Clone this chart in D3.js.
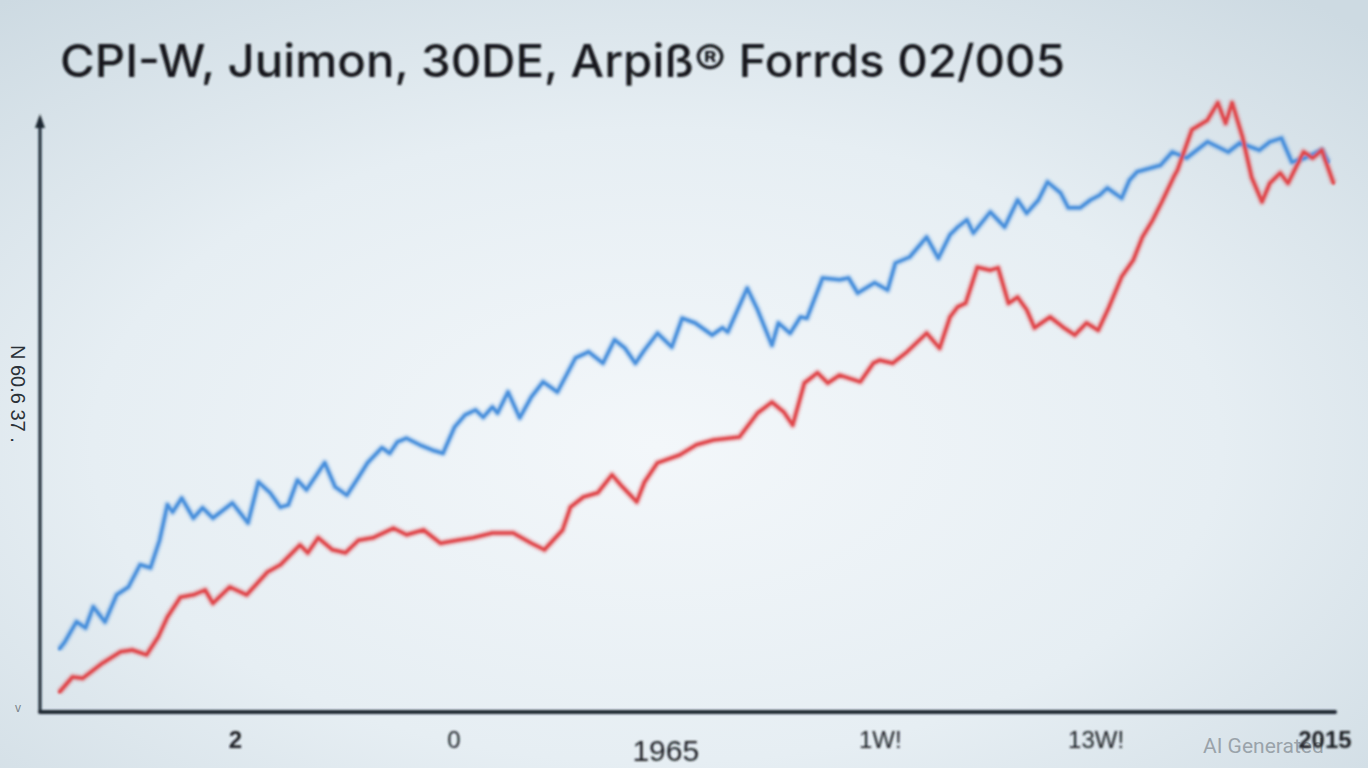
<!DOCTYPE html>
<html>
<head>
<meta charset="utf-8">
<script src="https://cdn.jsdelivr.net/npm/d3@7"></script>
<style>
  html, body { margin: 0; padding: 0; overflow: hidden; }
  body { width: 1368px; height: 768px; }
</style>
</head>
<body>
<div id="vis"></div>
<script>
// Values (x: position along the axis 0..100, y: index value)
var blueX = [1.5,1.9,2.8,3.5,4.1,5.0,5.9,6.8,7.7,8.5,9.2,9.8,10.2,10.9,11.8,12.5,13.3,14.8,16.0,16.8,17.7,18.5,19.1,19.8,20.5,21.9,22.7,23.6,24.5,
  25.2,26.3,26.9,27.5,28.2,29.2,30.2,31.0,31.9,32.7,33.5,34.1,34.8,35.2,36.0,36.9,37.8,38.7,39.8,41.2,42.2,43.3,44.2,45.0,45.8,46.5,47.5,
  48.6,49.4,50.4,51.7,52.5,52.9,54.4,55.2,56.3,56.8,57.7,58.5,59.0,60.2,61.5,62.2,62.9,64.2,65.2,65.8,66.9,68.2,69.1,70.0,
  70.6,71.3,71.8,73.1,74.2,75.2,75.9,76.8,77.5,78.5,79.1,80.0,80.8,81.5,82.1,83.2,83.8,84.4,86.2,87.1,88.2,89.8,91.4,92.3,93.8,94.6,95.5,96.3,97.3,98.6,99.1];
var blueY = [10.2,11.3,14.7,13.7,17.2,14.7,19.2,20.5,24.2,23.7,28.3,34.2,33.0,35.3,32.0,33.7,32.0,34.5,31.2,38.0,36.2,33.8,34.2,38.3,36.7,41.2,37.2,35.8,38.8,
  41.2,43.7,42.8,44.7,45.3,44.2,43.3,42.8,47.2,49.2,50.0,48.8,50.5,49.5,53.0,48.7,52.2,54.7,53.0,58.7,59.7,57.8,61.7,60.3,57.8,60.0,62.8,
  60.5,65.3,64.5,62.5,63.7,63.0,70.3,66.7,60.8,64.5,62.8,65.5,65.3,72.0,71.7,72.0,69.5,71.2,70.0,74.5,75.5,78.8,75.3,79.2,
  80.5,81.7,79.5,83.0,80.5,85.0,82.8,85.0,88.0,86.2,83.7,83.7,85.0,85.8,87.0,85.3,88.3,89.7,90.8,93.0,92.0,94.7,93.0,94.5,93.3,94.7,95.3,91.3,92.0,93.3,91.3];

var redX = [1.5,2.5,3.3,4.8,6.2,7.1,8.2,9.1,9.8,10.8,11.8,12.7,13.3,14.6,15.9,17.5,18.5,20.0,20.6,21.4,22.5,23.5,24.5,
  25.6,27.2,28.2,29.5,30.8,32.1,33.3,34.8,36.4,37.8,38.8,40.2,40.8,41.8,42.9,44.0,44.8,45.9,46.5,47.5,49.2,50.5,
  51.8,53.8,55.2,56.3,57.2,57.9,58.8,59.8,60.6,61.5,63.1,64.1,64.6,65.6,66.7,68.2,69.2,70.0,70.6,
  71.2,72.1,73.1,73.7,74.5,75.2,75.9,76.5,77.7,78.7,79.6,80.5,81.4,82.2,83.2,84.1,84.8,85.6,86.3,87.2,87.5,
  88.6,89.8,90.6,91.2,91.7,92.5,93.2,94.0,94.6,95.4,96.0,97.2,97.9,98.6,99.5];
var redY = [3.0,5.5,5.3,7.8,9.7,10.0,9.2,12.2,15.5,18.8,19.2,20.0,17.8,20.5,19.2,23.0,24.2,27.5,26.2,28.7,26.7,26.2,28.3,
  28.7,30.3,29.2,30.0,27.8,28.3,28.7,29.5,29.5,27.8,26.7,30.0,33.8,35.5,36.2,39.2,37.2,34.7,38.0,41.2,42.5,44.2,
  45.0,45.5,49.5,51.3,49.7,47.5,54.5,56.2,54.5,55.8,54.7,57.8,58.3,57.8,59.7,62.8,60.3,65.5,67.2,
  67.8,73.8,73.3,73.7,67.8,68.8,66.7,63.7,65.5,63.8,62.5,64.5,63.3,67.0,72.2,75.0,78.8,81.7,84.7,88.8,90.0,
  96.7,98.3,101.2,97.8,101.2,95.5,88.8,84.7,87.8,89.5,87.8,93.0,92.0,93.3,87.8];

var tickPos = [15, 31.8, 48.1, 64.6, 81.2, 98.8];
var tickLabels = ['2', '0', '1965', '1W!', '13W!', '2015'];

var titleText = 'CPI-W, Juimon, 30DE, Arpi\u00df\u00ae Forrds 02/005';
var yLabelText = 'N 60.6 37 .';

var width = 1368;
var height = 768;

var svg = d3.select('#vis').append('svg')
  .attr('width', width)
  .attr('height', height);

var defs = svg.append('defs');

// soft background
var bg = defs.append('radialGradient')
  .attr('id', 'bg')
  .attr('cx', '48%').attr('cy', '58%').attr('r', '75%');
bg.append('stop').attr('offset', '0%').attr('stop-color', '#f3f7fa');
bg.append('stop').attr('offset', '55%').attr('stop-color', '#e6eef3');
bg.append('stop').attr('offset', '100%').attr('stop-color', '#cddae2');

var soft = defs.append('filter').attr('id', 'soft')
  .attr('x', '-5%').attr('y', '-5%').attr('width', '110%').attr('height', '110%');
soft.append('feGaussianBlur').attr('stdDeviation', 0.9);

svg.append('rect')
  .attr('width', width)
  .attr('height', height)
  .attr('fill', 'url(#bg)');

var x = d3.scaleLinear().domain([0, 100]).range([40, 1340]);
var y = d3.scaleLinear().domain([0, 105]).range([710, 80]);

// title
svg.append('text')
  .attr('x', 60)
  .attr('y', 77)
  .attr('textLength', 1005)
  .attr('lengthAdjust', 'spacingAndGlyphs')
  .style('font-family', 'Inter, "DejaVu Sans", sans-serif')
  .style('font-size', '45px')
  .style('font-weight', 500)
  .style('fill', '#14181c')
  .style('filter', 'url(#soft)')
  .text(titleText);

// watermark
svg.append('text')
  .attr('x', 1203)
  .attr('y', 753)
  .style('font-family', 'Roboto, sans-serif')
  .style('font-size', '21px')
  .style('fill', '#9aa3aa')
  .text('AI Generated');

// lines
var line = d3.line()
  .x(function (d) { return x(d[0]); })
  .y(function (d) { return y(d[1]); });

var series = [
  { name: 'blue', color: '#4a90dc', pts: d3.zip(blueX, blueY) },
  { name: 'red', color: '#e0474b', pts: d3.zip(redX, redY) }
];

var g = svg.append('g').style('filter', 'url(#soft)');

g.selectAll('.halo')
  .data(series)
  .enter().append('path')
  .attr('class', 'halo')
  .attr('d', function (d) { return line(d.pts); })
  .attr('fill', 'none')
  .attr('stroke', function (d) { return d.color; })
  .attr('stroke-opacity', 0.25)
  .attr('stroke-width', 8)
  .attr('stroke-linejoin', 'round');

g.selectAll('.series')
  .data(series)
  .enter().append('path')
  .attr('class', 'series')
  .attr('d', function (d) { return line(d.pts); })
  .attr('fill', 'none')
  .attr('stroke', function (d) { return d.color; })
  .attr('stroke-width', 3.5)
  .attr('stroke-linejoin', 'round')
  .attr('stroke-linecap', 'round');

// axes lines
var ax = svg.append('g').style('filter', 'url(#soft)');
ax.append('line')
  .attr('x1', 40).attr('y1', 118)
  .attr('x2', 40).attr('y2', 712)
  .attr('stroke', '#1c2630')
  .attr('stroke-width', 3);
ax.append('path')
  .attr('d', 'M35,128 L40,114 L45,128 Z')
  .attr('fill', '#1c2630');
ax.append('line')
  .attr('x1', 40).attr('y1', 712)
  .attr('x2', 1335).attr('y2', 712)
  .attr('stroke', '#1c2630')
  .attr('stroke-width', 4)
  .attr('stroke-linecap', 'round');

// x tick labels
var xAxis = d3.axisBottom(x)
  .tickValues(tickPos)
  .tickSize(0)
  .tickFormat(function (d, i) { return tickLabels[i]; });

var xg = svg.append('g')
  .attr('transform', 'translate(0,726)')
  .call(xAxis);
xg.select('.domain').remove();
xg.selectAll('text')
  .style('font-family', '"Liberation Sans Narrow", "Liberation Sans", sans-serif')
  .style('font-size', function (d, i) { return i === 2 ? '30px' : '24px'; })
  .attr('dy', function (d, i) { return i === 2 ? '1.05em' : '0.8em'; })
  .style('fill', '#1a1f24')
  .style('font-weight', function (d, i) { return i === 0 || i === 5 ? 'bold' : 'normal'; })
  .style('filter', 'url(#soft)');

// y label
svg.append('text')
  .attr('transform', 'translate(11,345) rotate(90)')
  .style('font-family', '"Liberation Sans Narrow", sans-serif')
  .style('font-size', '20px')
  .style('fill', '#2a3138')
  .text(yLabelText);

svg.append('text')
  .attr('x', 15).attr('y', 712)
  .style('font-family', 'sans-serif')
  .style('font-size', '12px')
  .style('fill', '#7b858c')
  .text('v');
</script>
</body>
</html>
